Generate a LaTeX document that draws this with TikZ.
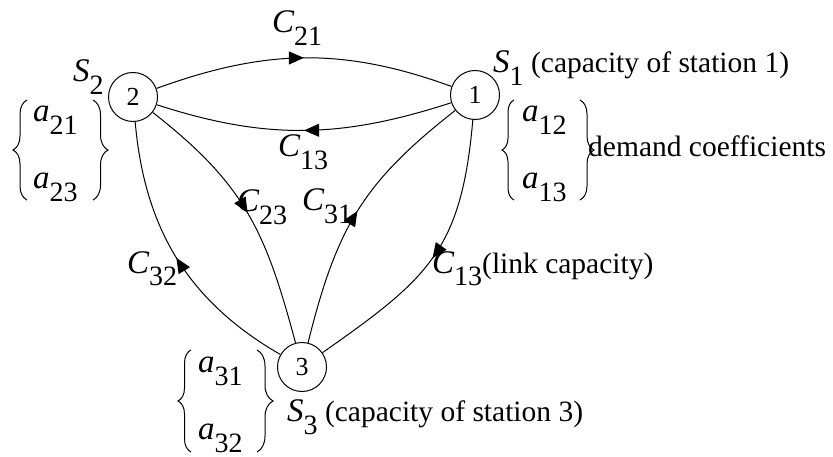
\documentclass[tikz,border=0pt]{standalone}
\usepackage{fontspec}
\setmainfont{Liberation Serif}
\usetikzlibrary{arrows.meta,decorations.markings,decorations.pathreplacing}
\newcommand{\symb}[2]{{\fontsize{33}{33}\selectfont\itshape #1}\raisebox{-13pt}{\fontsize{28}{28}\selectfont #2}}
\newcommand{\txt}{\fontsize{29.5}{34}\selectfont}
\begin{document}
\begin{tikzpicture}[x=1pt,y=1pt,
  station/.style={circle,draw,line width=1pt,minimum size=49pt,inner sep=0pt,font=\fontsize{26}{26}\selectfont},
  lbl/.style={anchor=base west,inner sep=0pt},
  link/.style={line width=1pt,postaction={decorate},decoration={markings,mark=at position 0.5 with {\arrow{Triangle[length=15pt,width=13pt]}}}},
  brc/.style={line width=1pt,decorate,decoration={brace,amplitude=#1}}]
\useasboundingbox (0,0) rectangle (833,-457);
\node[station] (n2) at (133,-97) {2};
\node[station] (n1) at (475,-95) {1};
\node[station] (n3) at (302,-367) {3};
% links
\draw[link] (n2) to[out=20,in=160] (n1);
\draw[link] (n1) to[out=198,in=-18] (n2);
\draw[link] (n2) to[out=-38,in=105,looseness=1.1] (n3);
\draw[link] (n3) to[out=76,in=-142,looseness=1.1] (n1);
\draw[link] (n1) to[out=-95,in=35,looseness=1.2] (n3);
\draw[link] (n3) to[out=150,in=-85] (n2);
% link labels
\node[lbl] (c21) at (272,-33) {\symb{C}{21}};
\node[lbl] (c13a) at (278,-157) {\symb{C}{13}};
\node[lbl] (c23) at (237,-212) {\symb{C}{23}};
\node[lbl] (c31) at (302,-211) {\symb{C}{31}};
\node[lbl] (c32) at (127,-273) {\symb{C}{32}};
\node[lbl] (c13b) at (432,-273) {\symb{C}{13}\txt(link capacity)};
% station labels
\node[lbl] (s2) at (73,-82) {\symb{S}{2}};
\node[lbl] (s1) at (493,-73) {\symb{S}{1}\txt\ (capacity of station 1)};
\node[lbl] (s3) at (287,-421) {\symb{S}{3}\txt\ (capacity of station 3)};
\node[lbl] (dem) at (588,-157) {\txt demand coefficients};
% demand coefficients
\node[lbl] (a21) at (33,-122) {\symb{a}{21}};
\node[lbl] (a23) at (33,-189) {\symb{a}{23}};
\node[lbl] (a12) at (522,-122) {\symb{a}{12}};
\node[lbl] (a13) at (522,-189) {\symb{a}{13}};
\node[lbl] (a31) at (198,-372) {\symb{a}{31}};
\node[lbl] (a32) at (198,-439) {\symb{a}{32}};
% braces
\draw[brc=14pt] (27,-200) -- (27,-100);
\draw[brc=15pt] (93,-100) -- (93,-200);
\draw[brc=12pt] (514,-200) -- (514,-100);
\draw[brc=14pt] (580,-100) -- (580,-200);
\draw[brc=13pt] (191,-452) -- (191,-350);
\draw[brc=16pt] (257,-350) -- (257,-452);
\end{tikzpicture}
\end{document}
